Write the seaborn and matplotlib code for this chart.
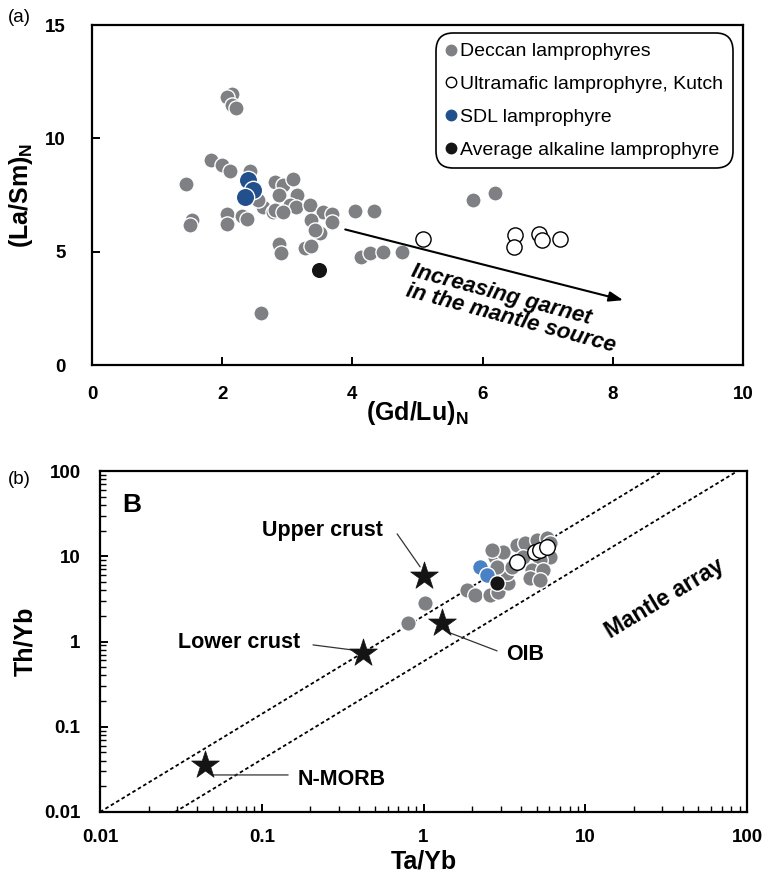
import numpy as np
import pandas as pd
import matplotlib
matplotlib.use('Agg')
import matplotlib.pyplot as plt
import seaborn as sns
from matplotlib.lines import Line2D
from matplotlib.ticker import FixedLocator, FixedFormatter, LogLocator, NullFormatter

sns.set_theme(style='white')
plt.rcParams['font.family'] = ['Liberation Sans', 'DejaVu Sans']
plt.rcParams['mathtext.fontset'] = 'custom'
plt.rcParams['mathtext.rm'] = 'Liberation Sans'
plt.rcParams['mathtext.bf'] = 'Liberation Sans:bold'
plt.rcParams['mathtext.it'] = 'Liberation Sans:italic'
for key in ['text.color', 'axes.labelcolor', 'xtick.color', 'ytick.color', 'axes.edgecolor']:
    plt.rcParams[key] = 'black'

# ---------------- Panel (a) data: (Gd/Lu)N vs (La/Sm)N ----------------
deccan_gdlu = [2.15, 2.07, 2.15, 2.21, 1.83, 2.00, 2.12, 2.42, 1.45, 2.81, 2.93, 3.08,
               2.88, 3.15, 3.04, 3.14, 3.35, 3.55, 3.68, 2.63, 2.78, 2.07, 2.30, 2.38,
               2.07, 1.53, 1.51, 3.37, 3.68, 3.50, 3.43, 4.04, 4.33, 2.88, 2.91, 3.27,
               3.36, 4.13, 4.27, 4.47, 4.76, 2.59, 5.85, 6.19, 2.81, 2.94, 2.55]
deccan_lasm = [11.94, 11.82, 11.48, 11.33, 9.03, 8.81, 8.56, 8.56, 8.00, 8.07, 7.93, 8.22,
               7.49, 7.49, 7.05, 6.97, 7.05, 6.75, 6.65, 6.97, 6.75, 6.68, 6.58, 6.46,
               6.21, 6.39, 6.17, 6.39, 6.31, 5.83, 5.95, 6.80, 6.80, 5.36, 4.92, 5.14,
               5.24, 4.77, 4.95, 4.99, 4.99, 2.30, 7.27, 7.59, 6.83, 6.75, 7.27]
kutch_gdlu = [5.09, 6.50, 6.48, 6.87, 6.92, 7.19]
kutch_lasm = [5.54, 5.73, 5.21, 5.77, 5.51, 5.58]
sdl_gdlu = [2.39, 2.48, 2.35]
sdl_lasm = [8.18, 7.71, 7.41]
avg_gdlu = [3.49]
avg_lasm = [4.21]
arrow_start = (3.89, 5.98)
arrow_end = (8.16, 2.86)

# ---------------- Panel (b) data: Ta/Yb vs Th/Yb ----------------
deccan_tayb = [1.86, 2.08, 2.58, 2.89, 3.34, 3.29, 2.77, 3.11, 3.79, 4.25, 5.04, 5.81,
               6.07, 6.07, 5.26, 4.69, 5.49, 4.56, 5.26, 4.13, 2.85, 3.53, 2.66, 1.02, 0.80]
deccan_thyb = [4.03, 3.52, 3.52, 3.82, 4.87, 6.39, 9.84, 11.3, 13.6, 14.4, 15.6, 16.4,
               14.4, 9.84, 9.08, 6.92, 6.92, 5.57, 5.28, 9.84, 7.51, 7.51, 11.9, 2.84, 1.65]
kutch_tayb = [3.79, 4.90, 5.26, 5.81]
kutch_thyb = [8.60, 11.3, 11.9, 12.9]
sdl_tayb = [2.24, 2.47]
sdl_thyb = [7.51, 6.05]
avg_tayb = [2.85]
avg_thyb = [4.87]
ref_names = ['Upper crust', 'Lower crust', 'OIB', 'N-MORB']
ref_tayb = [1.01, 0.423, 1.30, 0.0446]
ref_thyb = [5.89, 0.734, 1.65, 0.0357]
array_upper_x = [0.01, 30.1]
array_upper_y = [0.01, 100]
array_lower_x = [0.0291, 87.5]
array_lower_y = [0.01, 100]

GRAY = '#7e8083'
BLUE_A = '#22508c'
BLUE_B = '#4a80c4'
BLACK = '#141414'

fig = plt.figure(figsize=(7.7, 8.85), dpi=100)
axA = fig.add_axes([92/770, 1-365/885, 651/770, 340/885])
axB = fig.add_axes([100/770, 1-812/885, 647/770, 341/885])

for ax in (axA, axB):
    for sp in ax.spines.values():
        sp.set_color('black')
        sp.set_linewidth(1.6)

# ---- Panel (a) ----
sns.scatterplot(x=deccan_gdlu, y=deccan_lasm, ax=axA, color=GRAY, s=120,
                edgecolor='white', linewidth=1.0, zorder=3)
sns.scatterplot(x=sdl_gdlu, y=sdl_lasm, ax=axA, color=BLUE_A, s=175,
                edgecolor='white', linewidth=1.0, zorder=4)
sns.scatterplot(x=avg_gdlu, y=avg_lasm, ax=axA, color=BLACK, s=140,
                edgecolor='white', linewidth=1.0, zorder=4)
sns.scatterplot(x=kutch_gdlu, y=kutch_lasm, ax=axA, color='white', s=120,
                edgecolor='black', linewidth=1.0, zorder=4)
axA.set_xlim(0, 10)
axA.set_ylim(0, 15)
axA.set_xticks([0, 2, 4, 6, 8, 10])
axA.set_yticks([0, 5, 10, 15])
axA.tick_params(direction='in', length=6, width=1.4, bottom=True, left=True,
                labelsize=13.5)
axA.tick_params(axis='y', pad=19)
axA.tick_params(axis='x', pad=15)
for lab in axA.get_xticklabels() + axA.get_yticklabels():
    lab.set_fontweight('bold')
axA.set_xlabel(r'$\mathbf{(Gd/Lu)}_{\mathbf{N}}$', fontsize=18)
axA.set_ylabel(r'$\mathbf{(La/Sm)}_{\mathbf{N}}$', fontsize=18)
axA.xaxis.set_label_coords(0.5, -0.1)
axA.yaxis.set_label_coords(-0.087, 0.5)

axA.annotate('', xy=arrow_end, xytext=arrow_start,
             arrowprops=dict(arrowstyle='-|>,head_length=0.7,head_width=0.25',
                             color='black', lw=1.5, shrinkA=0, shrinkB=0))
axA.text(4.95, 4.62, 'Increasing garnet\nin the mantle source', rotation=-15,
         rotation_mode='anchor', ha='left', va='top', multialignment='left',
         fontsize=16, fontweight='bold', fontstyle='italic', linespacing=1.0)

handles = [
    Line2D([], [], ls='', marker='o', markersize=7.5, markerfacecolor=GRAY,
           markeredgecolor=GRAY, label='Deccan lamprophyres'),
    Line2D([], [], ls='', marker='o', markersize=7.5, markerfacecolor='white',
           markeredgecolor='black', markeredgewidth=1.0,
           label='Ultramafic lamprophyre, Kutch'),
    Line2D([], [], ls='', marker='o', markersize=7.5, markerfacecolor=BLUE_A,
           markeredgecolor=BLUE_A, label='SDL lamprophyre'),
    Line2D([], [], ls='', marker='o', markersize=7.5, markerfacecolor=BLACK,
           markeredgecolor=BLACK, label='Average alkaline lamprophyre'),
]
leg = axA.legend(handles=handles, loc='upper right',
                 bbox_to_anchor=(1 - 10/651, 1 - 8/340), borderaxespad=0,
                 frameon=True, fancybox=True, framealpha=1, fontsize=14,
                 handlelength=0.5, handletextpad=0.25, labelspacing=0.78,
                 borderpad=0.5)
fr = leg.get_frame()
fr.set_edgecolor('black')
fr.set_linewidth(1.2)
fr.set_boxstyle('round,pad=0,rounding_size=0.9')

# ---- Panel (b) ----
axB.set_xscale('log')
axB.set_yscale('log')
axB.plot(array_upper_x, array_upper_y, ls=(0, (2, 1.5)), color='black', lw=1.3, zorder=2)
axB.plot(array_lower_x, array_lower_y, ls=(0, (2, 1.5)), color='black', lw=1.3, zorder=2)
sns.scatterplot(x=deccan_tayb, y=deccan_thyb, ax=axB, color=GRAY, s=125,
                edgecolor='white', linewidth=1.0, zorder=3)
sns.scatterplot(x=sdl_tayb, y=sdl_thyb, ax=axB, color=BLUE_B, s=130,
                edgecolor='white', linewidth=1.0, zorder=4)
sns.scatterplot(x=avg_tayb, y=avg_thyb, ax=axB, color=BLACK, s=125,
                edgecolor='white', linewidth=1.0, zorder=4)
sns.scatterplot(x=kutch_tayb, y=kutch_thyb, ax=axB, color='white', s=125,
                edgecolor='black', linewidth=1.0, zorder=5)
sns.scatterplot(x=ref_tayb, y=ref_thyb, ax=axB, color=BLACK, marker='*', s=440,
                edgecolor=BLACK, linewidth=0.5, zorder=6)
axB.set_xlim(0.01, 100)
axB.set_ylim(0.01, 100)
ticks = [0.01, 0.1, 1, 10, 100]
tick_labels = ['0.01', '0.1', '1', '10', '100']
axB.xaxis.set_major_locator(FixedLocator(ticks))
axB.xaxis.set_major_formatter(FixedFormatter(tick_labels))
axB.yaxis.set_major_locator(FixedLocator(ticks))
axB.yaxis.set_major_formatter(FixedFormatter(tick_labels))
axB.xaxis.set_minor_locator(LogLocator(base=10, subs=np.arange(2, 10), numticks=20))
axB.yaxis.set_minor_locator(LogLocator(base=10, subs=np.arange(2, 10), numticks=20))
axB.xaxis.set_minor_formatter(NullFormatter())
axB.yaxis.set_minor_formatter(NullFormatter())
axB.tick_params(which='major', direction='in', length=6, width=1.4, bottom=True,
                left=True, labelsize=13.5)
axB.tick_params(which='minor', direction='in', length=4, width=1.0, bottom=True, left=True)
axB.tick_params(axis='y', which='major', pad=14)
axB.tick_params(axis='x', which='major', pad=12)
for lab in axB.get_xticklabels() + axB.get_yticklabels():
    lab.set_fontweight('bold')
axB.set_xlabel('Ta/Yb', fontsize=18, fontweight='bold')
axB.set_ylabel('Th/Yb', fontsize=18, fontweight='bold')
axB.xaxis.set_label_coords(0.5, -0.11)
axB.yaxis.set_label_coords(-0.097, 0.5)

lab_kw = dict(fontsize=15.5, fontweight='bold', va='center')
axB.text(0.236, 19.9, ref_names[0], ha='center', **lab_kw)
axB.text(0.0725, 0.964, ref_names[1], ha='center', **lab_kw)
axB.text(4.25, 0.697, ref_names[2], ha='center', **lab_kw)
axB.text(0.1675, 0.0238, ref_names[3], ha='left', **lab_kw)
line_kw = dict(arrowprops=dict(arrowstyle='-', color='#333333', lw=0.9,
                               shrinkA=0, shrinkB=0))
axB.annotate('', xy=(0.953, 7.51), xytext=(0.687, 18.3), **line_kw)
axB.annotate('', xy=(0.361, 0.797), xytext=(0.2075, 0.912), **line_kw)
axB.annotate('', xy=(2.85, 0.776), xytext=(1.46, 1.26), **line_kw)
axB.annotate('', xy=(0.1456, 0.0272), xytext=(0.050, 0.0272), **line_kw)
axB.text(31.0, 3.15, 'Mantle array', rotation=31, ha='center', va='center',
         fontsize=16.5, fontweight='bold')
axB.text(0.049, 0.90, 'B', transform=axB.transAxes, ha='center', va='center',
         fontsize=19, fontweight='bold')

fig.text(8/770, 1 - 17/885, '(a)', fontsize=13.5, ha='left', va='center')
fig.text(8/770, 1 - 480/885, '(b)', fontsize=13.5, ha='left', va='center')

fig.savefig('out.png', dpi=100)
